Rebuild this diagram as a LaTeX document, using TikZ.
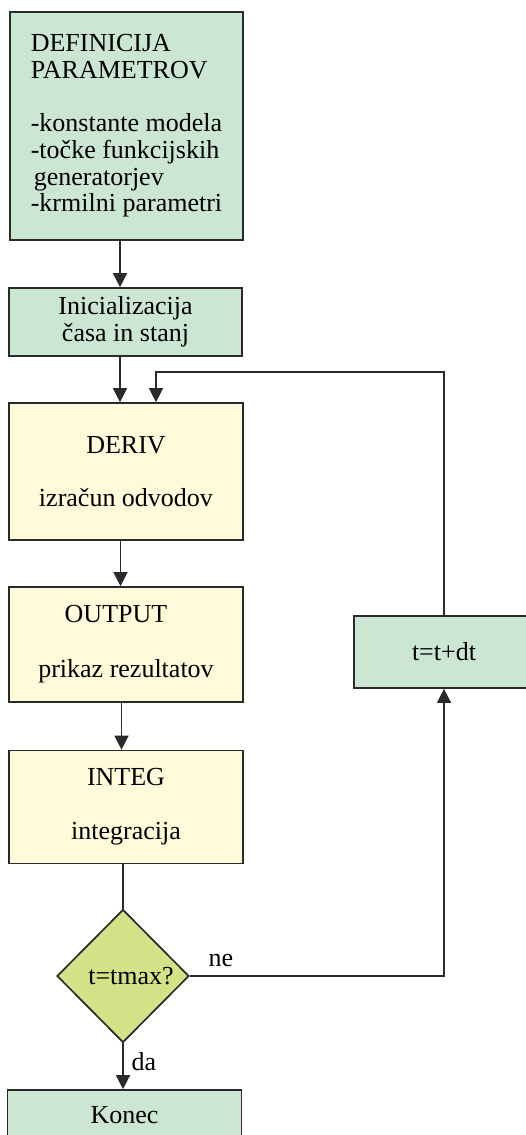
\documentclass[tikz,border=0pt]{standalone}
\usepackage{fontspec}
\setmainfont{Liberation Serif}
\usetikzlibrary{arrows.meta,shapes.geometric}

\definecolor{boxgreen}{HTML}{CCE6D4}
\definecolor{boxyellow}{HTML}{FFFAD9}
\definecolor{condgreen}{HTML}{D4E287}
\definecolor{ink}{HTML}{2A2A2A}

\tikzset{
  base/.style={draw=ink, line width=1.7pt, text=black,
    font=\fontsize{26}{26.7}\selectfont},
  greenbox/.style={base, rectangle, fill=boxgreen, align=center, inner sep=0pt},
  yellowbox/.style={base, rectangle, fill=boxyellow, align=center, inner sep=0pt},
  cond/.style={base, diamond, fill=condgreen, inner sep=0pt, shape aspect=1},
  conn/.style={draw=ink, line width=1.5pt},
  arr/.style={conn, -{Triangle[width=14pt,length=14pt]}},
  lbl/.style={font=\fontsize{26}{26.7}\selectfont, anchor=base, inner sep=0pt}
}

\begin{document}
\begin{tikzpicture}[x=1pt,y=-1pt]
  \useasboundingbox (0,0) rectangle (526,1135);
  \fill[white] (0,0) rectangle (526,1135);
  \clip (0,0) rectangle (526,1135);

  % parameter definition block
  \node[greenbox, minimum width=233pt, minimum height=228pt, align=left] (def) at (126.5,126)
    {DEFINICIJA\\PARAMETROV\\[26.7pt]-konstante modela\\-točke funkcijskih\\\hspace*{3pt}generatorjev\\-krmilni parametri};

  % initialisation
  \node[greenbox, minimum width=233pt, minimum height=68pt] (init) at (125.5,322)
    {Inicializacija\\časa in stanj};

  % simulation loop blocks
  \node[yellowbox, minimum width=234pt, minimum height=137pt] (deriv) at (126,471.5)
    {DERIV\\[26pt]izračun odvodov};
  \node[yellowbox, minimum width=234pt, minimum height=115pt] (output) at (126,644.5)
    {OUTPUT\hspace*{20pt}\\[28pt]prikaz rezultatov};
  \node[yellowbox, minimum width=234pt, minimum height=113pt] (integ) at (126,807)
    {INTEG\\[27pt]integracija};

  % end condition
  \node[cond, minimum width=132pt, minimum height=133pt] (test) at (123,976)
    {\hspace*{16pt}t=tmax?};

  % time step
  \node[greenbox, minimum width=180pt, minimum height=72pt] (step) at (444,652)
    {t=t+dt};

  % end
  \node[greenbox, minimum width=234pt, minimum height=50pt] (konec) at (124.5,1115)
    {Konec};

  % main flow
  \draw[arr] ([xshift=-6.5pt]def.south) -- ([xshift=-6.5pt]def.south |- init.north);
  \draw[arr] ([xshift=-5.5pt]init.south) -- ([xshift=-5.5pt]init.south |- deriv.north);
  \draw[arr] ([xshift=-5.5pt]deriv.south) -- ([xshift=-5.5pt]deriv.south |- output.north);
  \draw[arr] ([xshift=-4.5pt]output.south) -- ([xshift=-4.5pt]output.south |- integ.north);
  \draw[conn] (test.north |- integ.south) -- (test.north);
  \draw[arr] (test.south) -- (test.south |- konec.north);

  % loop back
  \coordinate (back) at (156,372);
  \draw[arr] (test.east) -| (step.south);
  \draw[arr] (step.north) |- (back) -- (back |- deriv.north);

  % branch labels
  \node[lbl] (ne) at (221,966) {ne};
  \node[lbl] (da) at (144,1070) {da};
\end{tikzpicture}
\end{document}
